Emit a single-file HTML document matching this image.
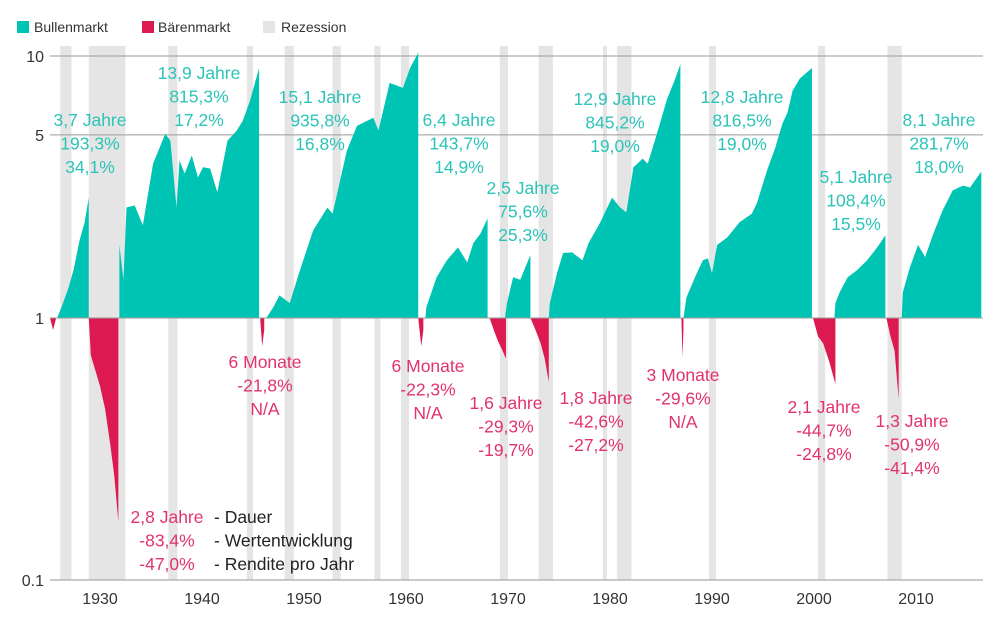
<!DOCTYPE html>
<html><head><meta charset="utf-8">
<style>
body{margin:0;background:#fff;font-family:"Liberation Sans",sans-serif;}
svg{display:block}
</style></head>
<body>
<svg id="chart" width="1000" height="619" viewBox="0 0 1000 619">
</svg>
<script>
const xTicks=[1930,1940,1950,1960,1970,1980,1990,2000,2010];
const yTicks=[10,5,1,0.1];
const yTickLabels=["10","5","1","0.1"];
const recessions=[[1926.1,1927.2],[1928.9,1932.5],[1936.7,1937.6],[1944.4,1945.0],[1948.1,1949.0],[1952.8,1953.6],[1956.9,1957.5],[1959.5,1960.3],[1969.2,1970.0],[1973.0,1974.4],[1979.3,1979.7],[1980.7,1982.1],[1989.7,1990.4],[2000.4,2001.1],[2007.2,2008.6]];
const bullYears=[
[1925.8,1926.3,1926.9,1927.4,1928.0,1928.5,1928.9],
[1931.9,1932.3,1932.6,1933.4,1934.2,1935.2,1936.4,1936.9,1937.5,1937.8,1938.3,1939.0,1939.6,1940.1,1940.8,1941.5,1942.5,1943.4,1944.0,1944.7,1945.6],
[1946.3,1947.0,1947.6,1948.6,1949.6,1950.9,1952.3,1952.8,1954.2,1955.2,1956.8,1957.3,1958.4,1959.7,1960.4,1961.2],
[1961.9,1962.0,1963.0,1964.0,1965.1,1966.0,1966.6,1967.3,1968.0],
[1969.7,1969.9,1970.5,1971.2,1971.7,1972.2],
[1974.0,1974.1,1974.8,1975.4,1976.3,1977.3,1977.9,1979.0,1980.2,1981.0,1981.6,1982.3,1983.2,1983.7,1984.6,1985.6,1986.4,1986.9],
[1987.2,1987.5,1988.5,1989.1,1989.6,1990.0,1990.5,1991.5,1992.7,1993.9,1994.4,1995.4,1996.2,1996.9,1997.4,1997.9,1998.6,1999.8],
[2002.0,2002.1,2002.5,2003.3,2004.2,2005.2,2006.2,2007.0],
[2008.6,2008.7,2009.4,2010.2,2010.9,2011.7,2012.6,2013.6,2014.6,2015.3,2016.4]];
const bullValues=[
[1.0,1.12,1.3,1.52,1.98,2.32,2.88],
[1.9,1.4,2.64,2.69,2.26,3.88,5.05,4.75,2.64,3.99,3.56,4.17,3.44,3.76,3.72,3.02,4.75,5.19,5.66,6.74,9.0],
[1.0,1.1,1.22,1.14,1.52,2.16,2.64,2.5,4.35,5.42,5.81,5.19,7.9,7.56,9.0,10.3],
[1.0,1.1,1.43,1.66,1.86,1.63,1.93,2.1,2.4],
[1.0,1.14,1.43,1.4,1.56,1.74],
[1.0,1.14,1.48,1.77,1.78,1.66,1.93,2.3,2.88,2.64,2.53,3.76,4.06,3.88,5.05,6.86,8.2,9.3],
[1.0,1.2,1.48,1.66,1.69,1.48,1.9,2.03,2.32,2.5,2.74,3.66,4.46,5.52,6.07,7.37,8.2,9.0],
[1.0,1.14,1.25,1.43,1.52,1.66,1.86,2.07],
[1.0,1.25,1.56,1.9,1.71,2.1,2.57,3.07,3.2,3.15,3.62]];
const bearYears=[
[1925.1,1925.4,1925.7],
[1928.9,1929.1,1929.6,1930.0,1930.5,1931.0,1931.4,1931.8],
[1945.7,1945.9,1946.1],
[1961.2,1961.5,1961.7],
[1968.2,1968.6,1969.0,1969.4,1969.8],
[1972.2,1972.7,1973.2,1973.6,1974.0],
[1987.0,1987.1,1987.2],
[1999.9,2000.4,2000.9,2001.5,2002.1],
[2007.1,2007.5,2007.9,2008.3]];
const bearValues=[
[1.0,0.9,1.0],
[1.0,0.72,0.62,0.55,0.45,0.33,0.25,0.167],
[1.0,0.78,0.9],
[1.0,0.78,0.9],
[1.0,0.9,0.82,0.76,0.7],
[1.0,0.9,0.8,0.7,0.57],
[1.0,0.71,0.9],
[1.0,0.85,0.8,0.68,0.56],
[1.0,0.85,0.75,0.49]];
const bullLabels=[["3,7 Jahre","193,3%","34,1%"],["13,9 Jahre","815,3%","17,2%"],["15,1 Jahre","935,8%","16,8%"],["6,4 Jahre","143,7%","14,9%"],["2,5 Jahre","75,6%","25,3%"],["12,9 Jahre","845,2%","19,0%"],["12,8 Jahre","816,5%","19,0%"],["5,1 Jahre","108,4%","15,5%"],["8,1 Jahre","281,7%","18,0%"]];
const bullLabelPos=[[90,120],[199,73],[320,97],[459,120],[523,188],[615,99],[742,97],[856,177],[939,120]];
const bearLabels=[["6 Monate","-21,8%","N/A"],["6 Monate","-22,3%","N/A"],["1,6 Jahre","-29,3%","-19,7%"],["1,8 Jahre","-42,6%","-27,2%"],["3 Monate","-29,6%","N/A"],["2,1 Jahre","-44,7%","-24,8%"],["1,3 Jahre","-50,9%","-41,4%"],["2,8 Jahre","-83,4%","-47,0%"]];
const bearLabelPos=[[265,362],[428,366],[506,403],[596,398],[683,375],[824,407],[912,421],[167,517]];

const NS="http://www.w3.org/2000/svg";
const svg=document.getElementById('chart');
const X=y=>100+(y-1930)*10.2;
const Y=v=>318-Math.log10(v)*262;
function mk(tag,attrs,parent){const e=document.createElementNS(NS,tag);for(const k in attrs)e.setAttribute(k,attrs[k]);(parent||svg).appendChild(e);return e;}
const TEAL="#00c4b3",RED="#dc1a50",GRAY="#e5e5e5";

// recessions
recessions.forEach(r=>{
 const e=mk('rect',{x:X(r[0]),y:46,width:X(r[1])-X(r[0]),height:580-46,fill:GRAY});
 
 
});
// gridlines
yTicks.forEach((t,i)=>{
 if(t===0.1)return;
 const l=mk('line',{x1:50,x2:983,y1:Y(t),y2:Y(t),stroke:"#9a9a9a","stroke-width":1});
 
 
});
function area(ys,vs,color,name){
 let d="M"+X(ys[0])+","+Y(1);
 ys.forEach((yr,i)=>{d+=" L"+X(yr)+","+Y(vs[i]);});
 d+=" L"+X(ys[ys.length-1])+","+Y(1)+" Z";
 const p=mk('path',{d:d,fill:color});
 
 
}
bullYears.forEach((ys,i)=>area(ys,bullValues[i],TEAL,'bull-market-area'));
bearYears.forEach((ys,i)=>area(ys,bearValues[i],RED,'bear-market-area'));
// baseline again on top
const bl=mk('line',{x1:50,x2:983,y1:Y(1),y2:Y(1),stroke:"#9a9a9a","stroke-width":1});


// x axis
const ax=mk('line',{x1:50,x2:983,y1:580,y2:580,stroke:"#aaa","stroke-width":1.2});


xTicks.forEach(t=>{
 const e=mk('text',{x:X(t),y:604,"text-anchor":"middle","font-size":16,fill:"#333"});
 e.textContent=t;
 
 
});
yTicks.forEach((t,i)=>{
 const e=mk('text',{x:44,y:Y(t)+6,"text-anchor":"end","font-size":16,fill:"#333"});
 e.textContent=yTickLabels[i];
 
 
});
function label(lines,pos,color,name,anchor){
 lines.forEach((s,j)=>{
  const e=mk('text',{x:pos[0],y:pos[1]+6+j*23.5,"text-anchor":anchor||"middle","font-size":17.5,fill:color});
  e.textContent=s;
  
  
 });
}
bullLabels.forEach((l,i)=>label(l,bullLabelPos[i],"#2cc4b8",'bull-label'));
bearLabels.forEach((l,i)=>label(l,bearLabelPos[i],"#e2336a",'bear-label'));
label(["- Dauer","- Wertentwicklung","- Rendite pro Jahr"],[214,517],"#222",'key-label',"start");
// legend
const leg=[["Bullenmarkt",TEAL,17,34],["Bärenmarkt",RED,142,158],["Rezession",GRAY,263,281]];
leg.forEach(l=>{
 const r=mk('rect',{x:l[2],y:21,width:12,height:12,fill:l[1]});
 
 
 const t=mk('text',{x:l[3],y:32,"font-size":14,fill:"#333"});
 t.textContent=l[0];
 
 
});
</script>
</body></html>
